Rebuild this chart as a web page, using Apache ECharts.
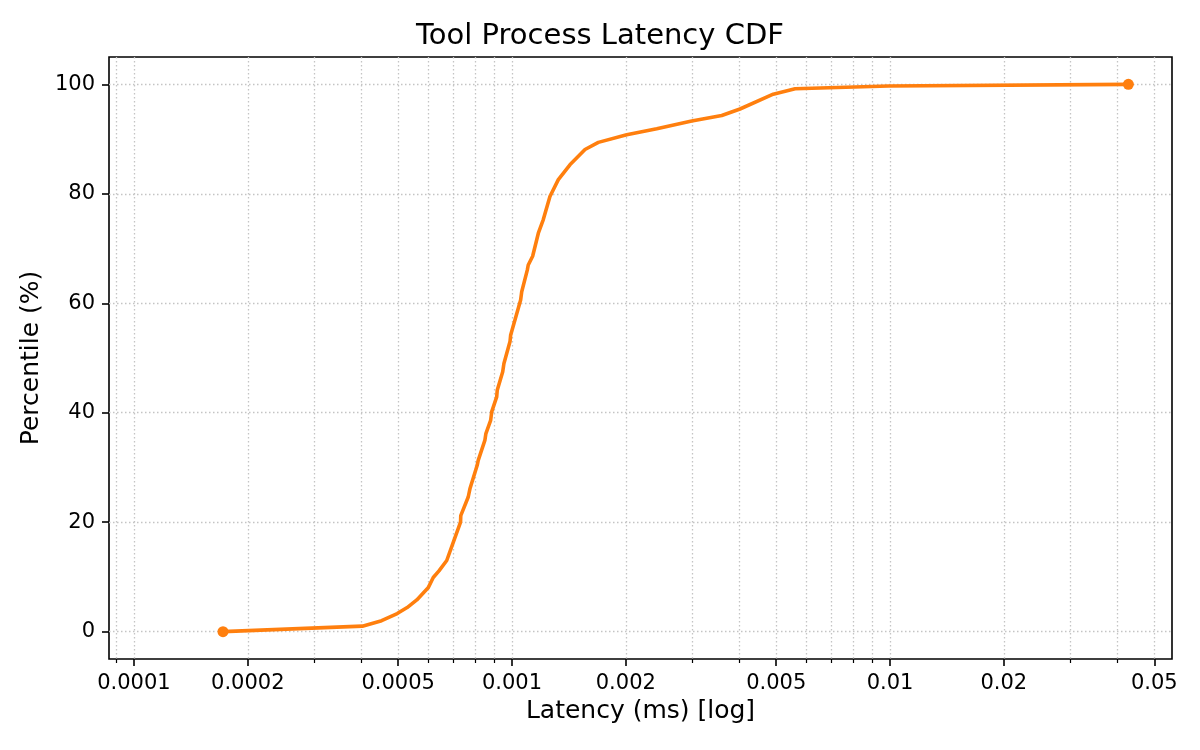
<!DOCTYPE html>
<html>
<head>
<meta charset="utf-8">
<script src="https://cdn.jsdelivr.net/npm/echarts@6/dist/echarts.min.js"></script>
<style>
  html, body { margin: 0; padding: 0; background: #fff; }
  .main { width: 1200px; height: 750px; }
</style>
</head>
<body>
<div class="main" id="main"></div>
<script>
var latencyMs = [
  0.000172, 0.000402, 0.000452, 0.000497, 0.000528, 0.00056, 0.0006, 0.000619,
  0.000641, 0.000672, 0.0007, 0.000731, 0.000732, 0.000766, 0.000774, 0.000809,
  0.000814, 0.000848, 0.000853, 0.000878, 0.000884, 0.000911, 0.000914, 0.000945,
  0.000952, 0.000988, 0.000992, 0.001054, 0.001061, 0.001098, 0.001104, 0.001134,
  0.001174, 0.00121, 0.00126, 0.001326, 0.001423, 0.00156, 0.001692, 0.002011,
  0.002415, 0.002988, 0.003588, 0.00401, 0.00491, 0.00561, 0.0099, 0.0427
];
var percentile = [
  0, 1.0, 2.0, 3.3, 4.4, 5.8, 8.0, 9.9,
  11.1, 13.0, 16.4, 20.0, 21.2, 24.6, 26.1, 30.4,
  31.3, 35.0, 36.2, 38.6, 40.2, 42.9, 44.1, 47.5,
  49.0, 53.0, 54.2, 60.6, 62.1, 66.1, 67.0, 68.6,
  72.8, 75.3, 79.5, 82.6, 85.3, 88.1, 89.4, 90.8,
  91.9, 93.3, 94.3, 95.5, 98.2, 99.2, 99.7, 100
];

var xMajorTicks = [0.0001, 0.0002, 0.0005, 0.001, 0.002, 0.005, 0.01, 0.02, 0.05];
var xMinorTicks = [0.00009, 0.0003, 0.0004, 0.0006, 0.0007, 0.0008, 0.0009,
                   0.003, 0.004, 0.006, 0.007, 0.008, 0.009, 0.03, 0.04];
var yTicks = [0, 20, 40, 60, 80, 100];

var xMin = 0.0000859;
var xMax = 0.0557;

function main() {
  var font = 'DejaVu Sans';
  var gridStyle = { color: '#c4c4c4', width: 1.3, type: [1.5, 2.5] };

  // log scale done by hand: axes work in log10 space
  function lg(v) { return Math.log10(v); }
  function fmt(v) { return String(Number(Math.pow(10, v).toPrecision(1))); }

  var points = [];
  for (var i = 0; i < latencyMs.length; i++) {
    points.push([lg(latencyMs[i]), percentile[i]]);
  }
  var last = points.length - 1;

  var myChart = echarts.init(document.getElementById('main'));

  var option = {
    animation: false,
    backgroundColor: '#fff',
    title: {
      text: 'Tool Process Latency CDF',
      left: 'center',
      top: 17,
      textStyle: { fontFamily: font, fontSize: 29, fontWeight: 'normal', color: '#000' }
    },
    grid: {
      left: 109, right: 28, top: 57, bottom: 91,
      show: true, borderColor: '#000', borderWidth: 1.6
    },
    xAxis: [{
      type: 'value',
      position: 'bottom',
      min: lg(xMin), max: lg(xMax),
      name: 'Latency (ms) [log]',
      nameLocation: 'middle',
      nameGap: 40,
      nameTextStyle: { fontFamily: font, fontSize: 25, color: '#000' },
      axisLine: { show: false, onZero: false },
      axisTick: { show: true, length: 7, lineStyle: { color: '#000', width: 1.6 },
                  customValues: xMajorTicks.map(lg) },
      axisLabel: { fontFamily: font, fontSize: 21, color: '#000', margin: 14,
                   customValues: xMajorTicks.map(lg), formatter: fmt },
      splitLine: { show: true, lineStyle: gridStyle }
    }, {
      type: 'value',
      position: 'bottom',
      min: lg(xMin), max: lg(xMax),
      axisLine: { show: false, onZero: false },
      axisTick: { show: true, length: 4, lineStyle: { color: '#000', width: 1.2 },
                  customValues: xMinorTicks.map(lg) },
      axisLabel: { show: false },
      splitLine: { show: true, lineStyle: gridStyle }
    }],
    yAxis: {
      type: 'value',
      min: -5, max: 105,
      name: 'Percentile (%)',
      nameLocation: 'middle',
      nameGap: 60,
      nameTextStyle: { fontFamily: font, fontSize: 25, color: '#000' },
      axisLine: { show: false, onZero: false },
      axisTick: { show: true, length: 7, lineStyle: { color: '#000', width: 1.6 },
                  customValues: yTicks },
      axisLabel: { fontFamily: font, fontSize: 21, color: '#000', margin: 14,
                   customValues: yTicks },
      splitLine: { show: true, lineStyle: gridStyle }
    },
    series: [{
      type: 'line',
      xAxisIndex: 0,
      data: points,
      symbol: 'circle',
      showSymbol: true,
      symbolSize: function (val, params) {
        return (params.dataIndex === 0 || params.dataIndex === last) ? 11 : 0;
      },
      itemStyle: { color: '#ff7f0e' },
      lineStyle: { color: '#ff7f0e', width: 3.6 },
      z: 5
    }]
  };

  myChart.setOption(option);
}
main();
</script>
</body>
</html>
